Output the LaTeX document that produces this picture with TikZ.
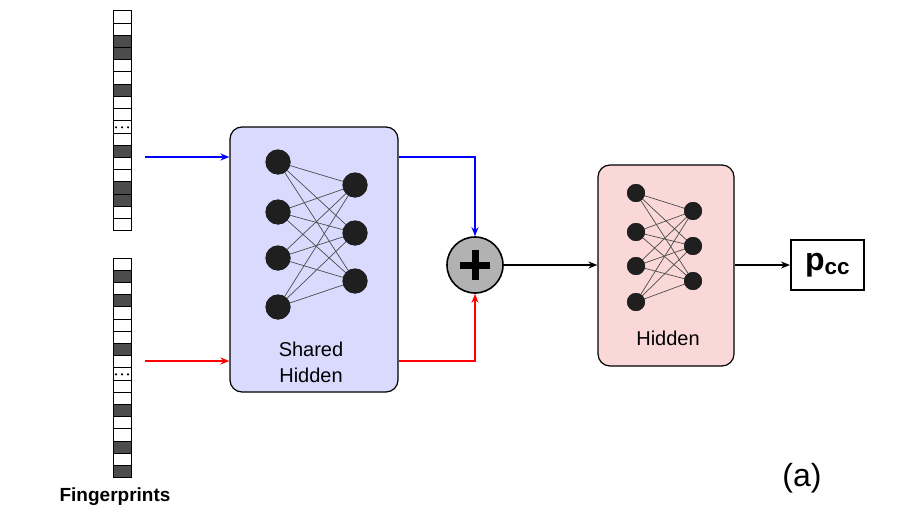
\documentclass[tikz,border=0pt]{standalone}
\usepackage{fontspec}
\setmainfont{Liberation Sans}
\usetikzlibrary{arrows.meta}
\begin{document}
\begin{tikzpicture}[x=1pt,y=-1pt,
 neu/.style={circle,fill=black!88,inner sep=0pt,minimum size=#1},
 conn/.style={draw=black!70,line width=0.7pt},
 arr/.style={-{Stealth[length=9pt,width=7pt]},line width=1.6pt},
 cell/.style={draw=black,line width=1pt}]
\useasboundingbox (0,0) rectangle (917,516);
% fingerprints
\def\cw{12.2}
\foreach \c [count=\i from 0] in {0,0,1,1,0,0,1,0,0,2,0,1,0,0,1,1,0,0}{
  \pgfmathsetmacro\yy{11+\i*\cw}
  \ifnum\c=1 \path[cell,fill=black!70] (113,\yy) rectangle ++(18,\cw);
  \else \path[cell,fill=white] (113,\yy) rectangle ++(18,\cw);\fi
  \ifnum\c=2 \foreach \dx in {-6,0,6} \fill (122+\dx,\yy+6.5) circle (1.2);\fi
}
\foreach \c [count=\i from 0] in {0,1,0,1,0,0,0,1,0,2,0,0,1,0,0,1,0,1}{
  \pgfmathsetmacro\yy{258+\i*\cw}
  \ifnum\c=1 \path[cell,fill=black!70] (113,\yy) rectangle ++(18,\cw);
  \else \path[cell,fill=white] (113,\yy) rectangle ++(18,\cw);\fi
  \ifnum\c=2 \foreach \dx in {-6,0,6} \fill (122+\dx,\yy+6.5) circle (1.2);\fi
}
\coordinate (fp1) at (145,157);
\coordinate (fp2) at (145,361);
\node[font=\bfseries\fontsize{19}{19}\selectfont] (fplabel) at (115,497) {Fingerprints};
% shared box
\node[draw,line width=1.2pt,rounded corners=12pt,fill={rgb,255:red,218;green,218;blue,255},minimum width=168,minimum height=265,inner sep=0] (sh) at (314,259.5) {};
\node[font=\fontsize{20}{26}\selectfont,align=center] (shl) at (311,362) {Shared\\Hidden};
\foreach \y [count=\i] in {162,212,258,307} \node[neu=25pt] (a\i) at (278,\y) {};
\foreach \y [count=\i] in {185,233,281} \node[neu=25pt] (b\i) at (355,\y) {};
\foreach \i in {1,...,4} \foreach \j in {1,2,3} \draw[conn] (a\i.center) -- (b\j.center);
\foreach \i in {1,...,4} \node[neu=25pt] at (a\i) {};
\foreach \j in {1,2,3} \node[neu=25pt] at (b\j) {};
% plus
\node[circle,draw,line width=1.6pt,fill=black!30,minimum size=56pt,inner sep=0] (plus) at (475,265) {};
\fill (plus.center) ++(-15,-3.5) rectangle ++(30,7);
\fill (plus.center) ++(-3.5,-15) rectangle ++(7,30);
% hidden box
\node[draw,line width=1.2pt,rounded corners=12pt,fill={rgb,255:red,250;green,216;blue,216},minimum width=136,minimum height=201,inner sep=0] (hd) at (666,265.5) {};
\node[font=\fontsize{20}{20}\selectfont] (hdl) at (668,338) {Hidden};
\foreach \y [count=\i] in {193,232,266,302} \node[neu=18pt] (c\i) at (636,\y) {};
\foreach \y [count=\i] in {211,246,281} \node[neu=18pt] (d\i) at (693,\y) {};
\foreach \i in {1,...,4} \foreach \j in {1,2,3} \draw[conn] (c\i.center) -- (d\j.center);
\foreach \i in {1,...,4} \node[neu=18pt] at (c\i) {};
\foreach \j in {1,2,3} \node[neu=18pt] at (d\j) {};
% output
\node[draw,line width=2pt,minimum width=73,minimum height=50,inner sep=0,font=\bfseries\fontsize{32}{32}\selectfont] (out) at (827.5,265) {p$_{\mathbf{cc}}$};
\node[font=\fontsize{32}{32}\selectfont] (lab) at (802,478) {(a)};
% arrows
\draw[arr,color=blue] (fp1) -- (sh.west |- fp1);
\draw[arr,color=red] (fp2) -- (sh.west |- fp2);
\draw[arr,color=blue] (sh.east |- fp1) -| (plus.north);
\draw[arr,color=red] (sh.east |- fp2) -| (plus.south);
\draw[arr] (plus.east) -- (hd.west |- plus);
\draw[arr] (hd.east |- plus) -- (out.west);
\end{tikzpicture}
\end{document}
